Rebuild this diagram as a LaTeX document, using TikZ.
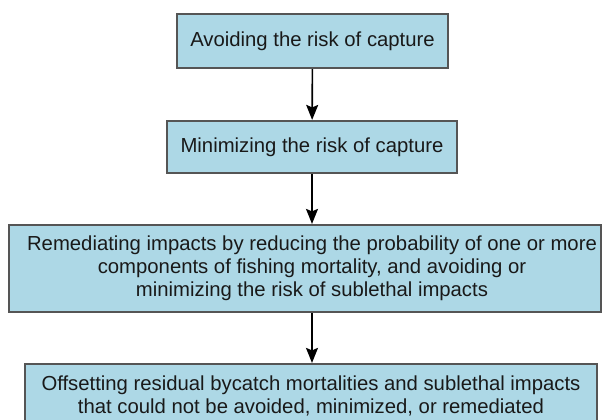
\documentclass[tikz,border=0pt]{standalone}
\usepackage{fontspec}
\setmainfont{Liberation Sans}
\usepackage{xcolor}
\usepackage{tikz}
\usetikzlibrary{arrows.meta}

\definecolor{boxblue}{HTML}{ADD8E6}
\definecolor{boxline}{HTML}{555555}

\begin{document}
\begin{tikzpicture}[
    x=1pt, y=-1pt,
    stage/.style={
      draw=boxline,
      line width=2.2pt,
      fill=boxblue,
      align=center,
      inner sep=0pt,
      text=black!90,
      font=\fontsize{20.3}{23}\selectfont,
    },
    flow/.style={
      line width=1.6pt,
      -{Stealth[length=15pt, width=12pt, inset=2.5pt]},
    },
  ]
  \useasboundingbox (0, 0) rectangle (606, 420);

  \node[stage, minimum width=271pt, minimum height=54pt] (avoid) at (312.5, 41)
    {Avoiding the risk of capture};
  \node[stage, minimum width=290pt, minimum height=52pt] (minimize) at (312, 147)
    {Minimizing the risk of capture};
  % the text of this box sits a little right of its middle
  \node[stage, minimum width=592pt, minimum height=87pt] (remediate) at (305, 268.5) {};
  \node[stage, draw=none, fill=none] (remediatetext) at (312, 268.5)
    {Remediating impacts by reducing the probability of one or more\\
     components of fishing mortality, and avoiding or\\
     minimizing the risk of sublethal impacts};
  \node[stage, minimum width=572pt, minimum height=64pt] (offset) at (311, 396)
    {Offsetting residual bycatch mortalities and sublethal impacts\\
     that could not be avoided, minimized, or remediated};

  \draw[flow] (avoid) -- (minimize);
  \draw[flow] (minimize.south) -- (minimize.south |- remediate.north);
  \draw[flow] (minimize.south |- remediate.south) -- (minimize.south |- offset.north);
\end{tikzpicture}
\end{document}
